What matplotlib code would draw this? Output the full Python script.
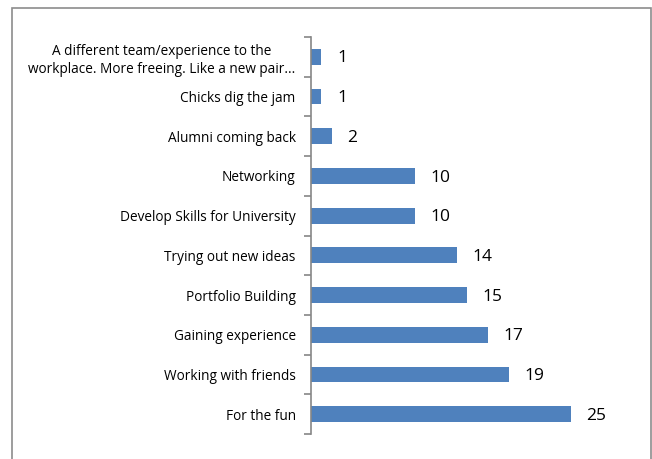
import matplotlib
matplotlib.use("Agg")
import matplotlib.pyplot as plt
from matplotlib.patches import Rectangle
import numpy as np

categories = [
    "For the fun",
    "Working with friends",
    "Gaining experience",
    "Portfolio Building",
    "Trying out new ideas",
    "Develop Skills for University",
    "Networking",
    "Alumni coming back",
    "Chicks dig the jam",
    "A different team/experience to the\nworkplace. More freeing. Like a new pair...",
]
values = [25, 19, 17, 15, 14, 10, 10, 2, 1, 1]

plt.rcParams['font.family'] = ['Open Sans', 'DejaVu Sans']

W, H = 652, 459
fig = plt.figure(figsize=(W / 100, H / 100), dpi=100)
fig.patch.set_facecolor("white")

# outer frame
fig.add_artist(Rectangle((12 / W, -0.05), (651 - 12) / W, 1.05 - 8 / H,
                         transform=fig.transFigure, fill=False,
                         edgecolor="#8c8c8c", linewidth=1.2))

left, right = 311, 623
top, bottom = 37, 434
ax = fig.add_axes([left / W, 1 - bottom / H, (right - left) / W, (bottom - top) / H])

y = np.arange(len(categories))
ax.barh(y, values, height=0.4, color="#4f81bd")
ax.set_xlim(0, 30)
ax.set_ylim(-0.5, len(categories) - 0.5)

for yi, v in zip(y, values):
    ax.text(v + 1.5, yi - 0.04, str(v), va="center", ha="left", fontsize=12.5, color="black")

ax.set_yticks(y)
ax.set_yticklabels(categories, fontsize=9.8, linespacing=1.25)
ax.tick_params(axis="y", length=0, pad=11)
ax.set_yticks(np.arange(-0.5, len(categories), 1), minor=True)
ax.tick_params(axis="y", which="minor", length=5, color="#868686", width=1.2)
for lbl in ax.get_yticklabels():
    lbl.set_horizontalalignment("right")
    if "\n" in lbl.get_text():
        lbl.set_multialignment("center")
ax.xaxis.set_visible(False)
for s in ["top", "right", "bottom"]:
    ax.spines[s].set_visible(False)
ax.spines["left"].set_color("#868686")
ax.spines["left"].set_linewidth(1.2)

fig.savefig("out.png", dpi=100)
